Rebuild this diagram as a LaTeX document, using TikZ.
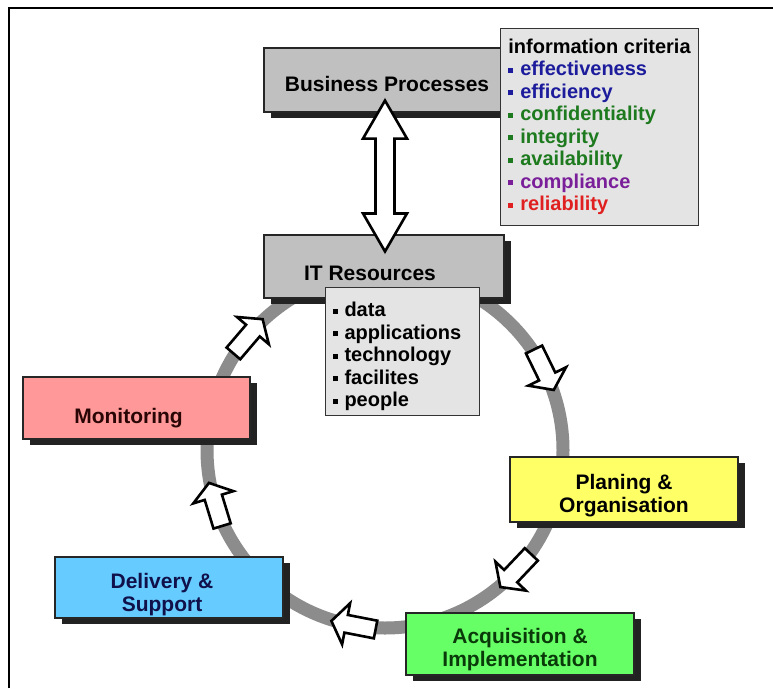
\documentclass[tikz,border=0pt]{standalone}
\usepackage{fontspec}
\setmainfont{Liberation Sans}
\usetikzlibrary{calc,shadows}
\definecolor{boxgray}{HTML}{C0C0C0}
\definecolor{listgray}{HTML}{E4E4E4}
\definecolor{ringgray}{HTML}{8C8C8C}
\definecolor{pinkfill}{HTML}{FF9999}
\definecolor{bluefill}{HTML}{66CCFF}
\definecolor{yellowfill}{HTML}{FFFF66}
\definecolor{greenfill}{HTML}{66FF66}
\definecolor{critblue}{HTML}{1C1C9C}
\definecolor{critgreen}{HTML}{1E7A1E}
\definecolor{critpurple}{HTML}{7A1E9A}
\definecolor{critred}{HTML}{E02020}
\definecolor{shadowc}{HTML}{222222}
\definecolor{montext}{HTML}{2A0505}
\definecolor{deltext}{HTML}{10104A}
\definecolor{acqtext}{HTML}{0A3A0A}
\newcommand\sqb{\rule[3pt]{5pt}{5pt}\hspace{7pt}}
\newcommand\dn[2]{\raisebox{-#1}[\height][\depth]{#2}}
\newcommand\cyclearrow[1]{%
  \pgfmathsetmacro\arrphi{#1+90}%
  \pgfmathsetmacro\arrperp{#1+180}%
  \coordinate (ca) at ($(ring)+(#1:178)$);
  \draw[cyc] ($(ca)+(\arrphi:-25)+(\arrperp:-9)$)
    -- ($(ca)+(\arrphi:5)+(\arrperp:-9)$)
    -- ($(ca)+(\arrphi:5)+(\arrperp:-21)$)
    -- ($(ca)+(\arrphi:20)$)
    -- ($(ca)+(\arrphi:5)+(\arrperp:21)$)
    -- ($(ca)+(\arrphi:5)+(\arrperp:9)$)
    -- ($(ca)+(\arrphi:-25)+(\arrperp:9)$) -- cycle;
}
\begin{document}
\begin{tikzpicture}[x=1pt,y=-1pt,
  phase/.style={draw=black!85, line width=1.1pt, inner sep=0pt, align=center,
     font=\fontsize{21}{23}\selectfont\bfseries,
     drop shadow={shadow xshift=7pt, shadow yshift=-6pt, opacity=1, fill=shadowc}},
  listbox/.style={draw=black!80, line width=1pt, fill=listgray, align=left,
     font=\fontsize{20}{22.5}\selectfont\bfseries},
  cyc/.style={draw=black, line width=2.6pt, fill=white, line join=miter},
  dbl/.style={draw=black, line width=2.6pt, fill=white, line join=miter}]
\useasboundingbox (0,0) rectangle (773,688);
\fill[white] (0,0) rectangle (773,688);
\draw[line width=1.3pt] (9,688) -- (9,8) -- (773,8);

% ring
\coordinate (ring) at (385,450);
\draw[ringgray, line width=13pt] (ring) circle[radius=178pt];

% cycle arrows
\cyclearrow{-26}
\cyclearrow{43.5}
\cyclearrow{101}
\cyclearrow{163}
\cyclearrow{220.5}

% phase boxes
\node[phase, fill=boxgray, minimum width=246pt, minimum height=64pt] (bp) at (387,80) {\dn{4pt}{Business Processes}};
\node[phase, fill=boxgray, minimum width=240pt, minimum height=63pt] (itres) at (384,266.5) {\dn{7pt}{IT Resources\kern28pt}};
\node[phase, fill=pinkfill, text=montext, minimum width=227pt, minimum height=62pt] (mon) at (136.5,408) {\dn{10pt}{Monitoring\kern16pt}};
\node[phase, fill=bluefill, text=deltext, minimum width=228pt, minimum height=61pt] (del) at (169,587.5) {\dn{7pt}{Delivery \&\kern14pt}\\\dn{7pt}{Support\kern14pt}};
\node[phase, fill=yellowfill, minimum width=228pt, minimum height=65pt] (plan) at (624,489.5) {\dn{6pt}{Planing \&}\\\dn{6pt}{Organisation}};
\node[phase, fill=greenfill, text=acqtext, minimum width=228pt, minimum height=62pt] (acq) at (520,644) {\dn{6pt}{Acquisition \&}\\\dn{6pt}{Implementation}};

% double arrow between business processes and IT resources
\coordinate (dtop) at ($(bp.south)+(-2,-12)$);
\coordinate (dbot) at ($(itres.north)+(1,17)$);
\draw[dbl] (dtop) -- ++(22,38) -- ++(-12.5,0) -- ($(dbot)+(9.5,-38)$) -- ++(12.5,0)
  -- (dbot) -- ++(-22,-38) -- ++(12.5,0) -- ($(dtop)+(-9.5,38)$) -- ++(-12.5,0) -- cycle;

% lists
\node[listbox, anchor=north west, text width=140pt, inner xsep=7pt, minimum height=128pt] (items) at (325,287)
  {\rule{0pt}{25pt}\sqb data\\ \sqb applications\\ \sqb technology\\ \sqb facilites\\ \sqb people};
\node[listbox, anchor=north west, inner xsep=5pt, minimum width=198pt, minimum height=197pt] (crit) at (500,28)
  {information criteria\\
   \textcolor{critblue}{\sqb effectiveness}\\
   \textcolor{critblue}{\sqb efficiency}\\
   \textcolor{critgreen}{\sqb confidentiality}\\
   \textcolor{critgreen}{\sqb integrity}\\
   \textcolor{critgreen}{\sqb availability}\\
   \textcolor{critpurple}{\sqb compliance}\\
   \textcolor{critred}{\sqb reliability}};
\end{tikzpicture}
\end{document}
